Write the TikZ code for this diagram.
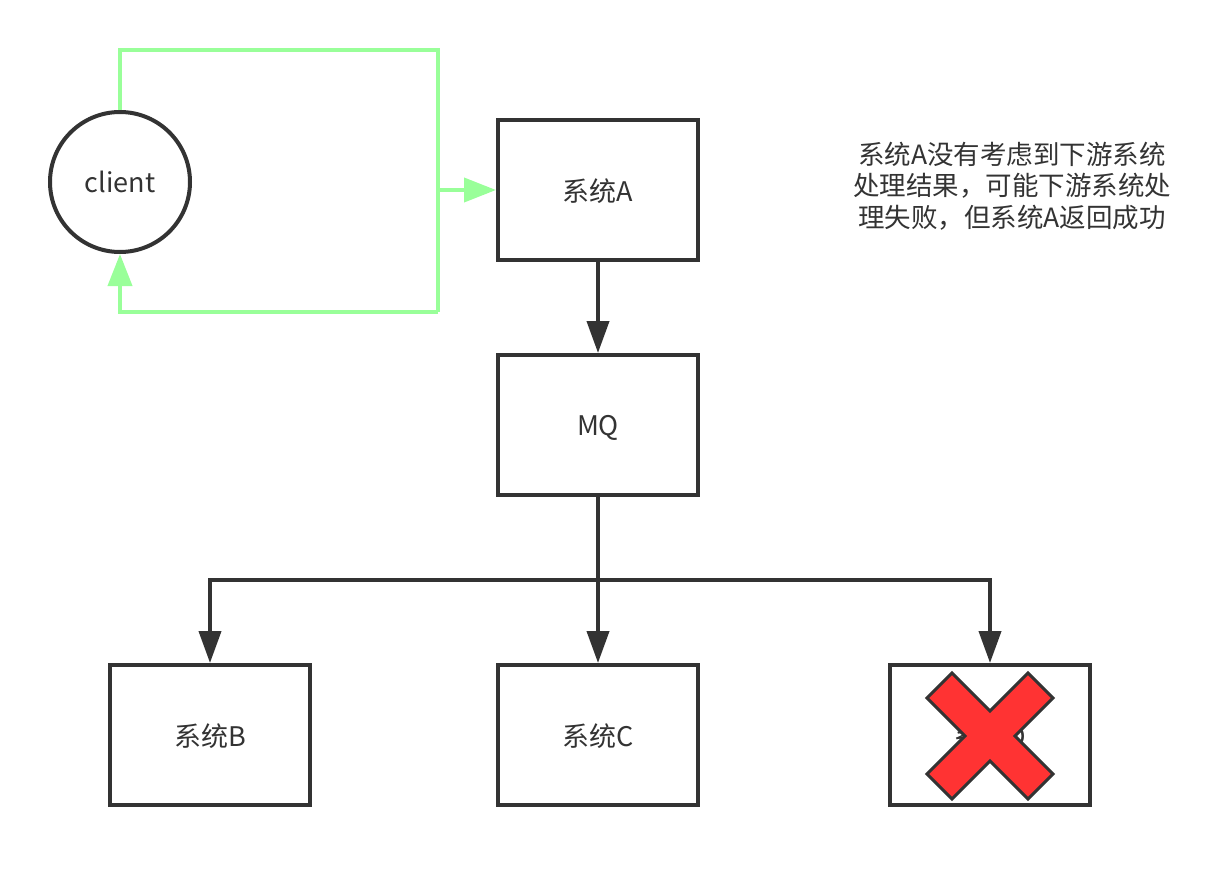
\documentclass[tikz,border=0pt]{standalone}
\usepackage{fontspec}
\setmainfont{Noto Sans CJK SC}
\usetikzlibrary{arrows.meta,positioning,calc}
\usepackage{xcolor}
\definecolor{darkline}{RGB}{51,51,51}
\definecolor{lightgreen}{RGB}{153,255,153}
\definecolor{crossred}{RGB}{255,51,51}
\tikzset{
  sysbox/.style={draw=darkline,line width=4pt,minimum width=200pt,minimum height=140pt,
    inner sep=0pt,font=\fontsize{27}{30}\selectfont,text=darkline,fill=white,
    text depth=-3pt},
  clientnode/.style={circle,draw=darkline,line width=4pt,minimum size=140pt,inner sep=0pt,
    font=\fontsize{27}{30}\selectfont,text=darkline},
  flow/.style={-{Triangle[length=32pt,width=22pt]},line width=4pt,draw=darkline},
  greenflow/.style={-{Triangle[length=32pt,width=24pt]},line width=4pt,draw=lightgreen},
  greenline/.style={line width=4pt,draw=lightgreen},
  crossmark/.style={draw=darkline,line width=3pt,fill=crossred,line join=miter},
  notetext/.style={align=center,font=\fontsize{26.5}{31.5}\selectfont,text=darkline,inner sep=0pt}
}
\begin{document}
\begin{tikzpicture}[x=1pt,y=-1pt]
  \useasboundingbox (0,0) rectangle (1222,883);
  \node[clientnode] (client) at (120,182) {client};
  \node[sysbox] (a) at (598,190) {系统A};
  \node[sysbox] (mq) at (598,425) {MQ};
  \node[sysbox] (b) at (210,735) {系统B};
  \node[sysbox] (c) at (598,735) {系统C};
  \node[sysbox] (d) at (990,735) {系统D};
  \node[notetext] (note) at (1012,186) {系统A没有考虑到下游系统\\处理结果，可能下游系统处\\理失败，但系统A返回成功};

  % green request / response loop
  \coordinate (loopTR) at (438,50);
  \coordinate (loopBR) at (438,312);
  \coordinate (loopMid) at (438,190);
  \draw[greenline] (client.north) |- (loopTR) -- (loopBR);
  \draw[greenflow] (loopBR) -| (client.south);
  \draw[greenflow] (loopMid) -- (a.west);

  % A -> MQ -> consumers
  \coordinate (fork) at (598,580);
  \draw[flow] (a) -- (mq);
  \draw[line width=4pt,draw=darkline] (mq.south) -- (fork);
  \draw[flow] (fork) -| (b.north);
  \draw[flow] (fork) -- (c.north);
  \draw[flow] (fork) -| (d.north);

  % failed consumer
  \draw[crossmark] ($(d.center)+(0,1)$) ++(-63,-38) -- ++(25,-25) -- ++(38,38) -- ++(38,-38)
    -- ++(25,25) -- ++(-38,38) -- ++(38,38) -- ++(-25,25) -- ++(-38,-38) -- ++(-38,38)
    -- ++(-25,-25) -- ++(38,-38) -- cycle;
\end{tikzpicture}
\end{document}
